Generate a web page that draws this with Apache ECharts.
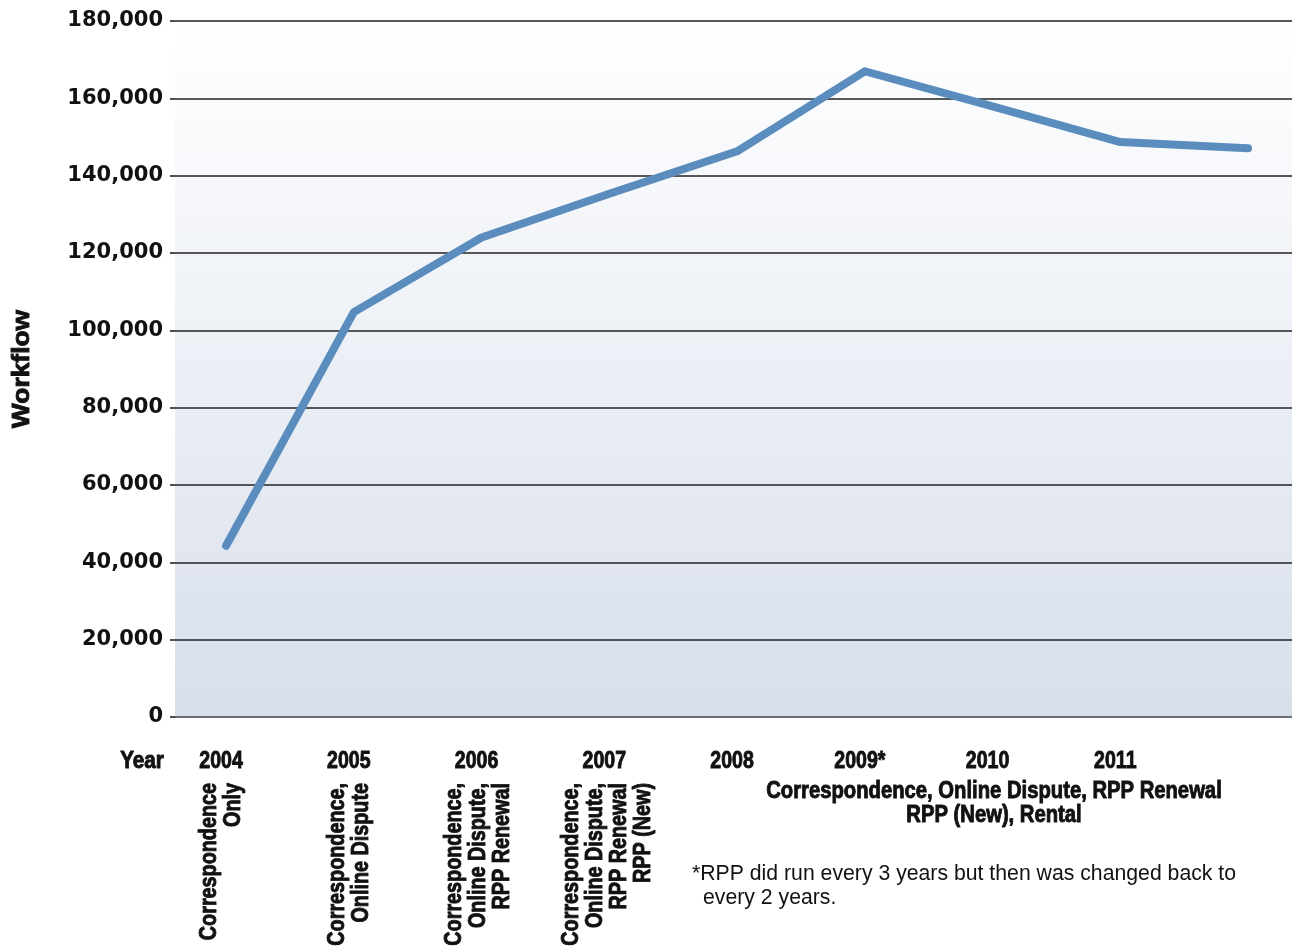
<!DOCTYPE html>
<html>
<head>
<meta charset="utf-8">
<script src="https://cdn.jsdelivr.net/npm/echarts@6/dist/echarts.min.js"></script>
<style>
html,body{margin:0;padding:0;background:#fff;}
#chart{width:1292px;height:946px;}
</style>
</head>
<body>
<div id="chart"></div>
<script>
// ---- data ----
var years = [2004, 2005, 2006, 2007, 2008, 2009, 2010, 2011, 2012];
var workflow = [44300, 104700, 124000, 135300, 146300, 167000, 157900, 148700, 147100];
var labelYears = [2004, 2005, 2006, 2007, 2008, 2009, 2010, 2011];
var starredYear = 2009;
var yTicks = { min: 0, max: 180000, interval: 20000 };
var yAxisTitle = 'Workflow';
var xAxisTitle = 'Year';
var workloadNotes = [
  ['Correspondence', 'Only'],
  ['Correspondence,', 'Online Dispute'],
  ['Correspondence,', 'Online Dispute,', 'RPP Renewal'],
  ['Correspondence,', 'Online Dispute,', 'RPP Renewal', 'RPP (New)']
];
var laterNote = ['Correspondence, Online Dispute, RPP Renewal', 'RPP (New), Rental'];
var footnote = ['*RPP did run every 3 years but then was changed back to', 'every 2 years.'];

// ---- chart ----
var SANS = "'Liberation Sans', Arial, sans-serif";
var chart = echarts.init(document.getElementById('chart'), null, { renderer: 'canvas' });

var option = {
  animation: false,
  backgroundColor: '#ffffff',
  grid: {
    left: 175, right: 0, top: 21, bottom: 229,
    show: true, borderWidth: 0,
    backgroundColor: new echarts.graphic.LinearGradient(0, 0, 0, 1, [
      { offset: 0, color: '#ffffff' },
      { offset: 1, color: '#d8dfeb' }
    ])
  },
  xAxis: {
    type: 'value',
    min: 2003.6, max: 2012.344,
    axisLine: { show: true, lineStyle: { color: '#6b707d', width: 2 } },
    axisTick: { show: false },
    splitLine: { show: false },
    axisLabel: { show: false }
  },
  yAxis: {
    type: 'value',
    min: yTicks.min, max: yTicks.max, interval: yTicks.interval,
    axisLine: { show: false },
    axisTick: { show: true, length: 5, lineStyle: { color: '#222', width: 1.6 } },
    splitLine: { show: true, lineStyle: { color: '#222', width: 1.6 } },
    axisLabel: {
      margin: 12,
      padding: [6, 0, 0, 0],
      fontFamily: "'DejaVu Sans', sans-serif", fontWeight: 'bold', fontSize: 21,
      color: '#111',
      formatter: function (v) { return v.toLocaleString('en-US'); }
    }
  },
  series: [{
    type: 'line',
    data: years.map(function (y, i) { return [y, workflow[i]]; }),
    symbol: 'none',
    lineStyle: { color: '#5a8dbd', width: 8, cap: 'round', join: 'round' }
  }]
};
chart.setOption(option);

// ---- text annotations (condensed via horizontal scaling) ----
function txt(x, y, text, font, sx, opts) {
  var o = opts || {};
  var style = {
    text: text, font: font, fill: '#111',
    textAlign: o.align || 'center', textVerticalAlign: o.valign || 'middle'
  };
  if (o.lineHeight) style.lineHeight = o.lineHeight;
  if (o.heavy) { style.stroke = '#111'; style.lineWidth = 0.9; }
  return { type: 'text', x: x, y: y, rotation: o.rotation || 0, scaleX: sx, scaleY: 1, style: style };
}
var graphics = [];
graphics.push(txt(22, 369, yAxisTitle, 'bold 24px ' + SANS, 1.1, { rotation: Math.PI / 2, heavy: true }));
graphics.push(txt(142, 762, xAxisTitle, 'bold 23px ' + SANS, 0.9, { heavy: true }));
labelYears.forEach(function (yr) {
  var px = chart.convertToPixel({ xAxisIndex: 0 }, yr);
  graphics.push(txt(px - 5, 762, yr === starredYear ? yr + '*' : String(yr), 'bold 23px ' + SANS, 0.85, { heavy: true }));
});
var noteX = [198, 326, 443, 560];
workloadNotes.forEach(function (lines, i) {
  graphics.push(txt(noteX[i], 783, lines.join('\n'), 'bold 23px ' + SANS, 0.86,
    { rotation: Math.PI / 2, align: 'right', valign: 'top', lineHeight: 24, heavy: true }));
});
graphics.push(txt(994, 804, laterNote.join('\n'), 'bold 23px ' + SANS, 0.88, { lineHeight: 24, heavy: true }));
graphics.push(txt(692, 874, footnote[0], '22px ' + SANS, 0.965, { align: 'left' }));
graphics.push(txt(703, 898, footnote[1], '22px ' + SANS, 0.965, { align: 'left' }));
chart.setOption({ graphic: graphics });
</script>
</body>
</html>
